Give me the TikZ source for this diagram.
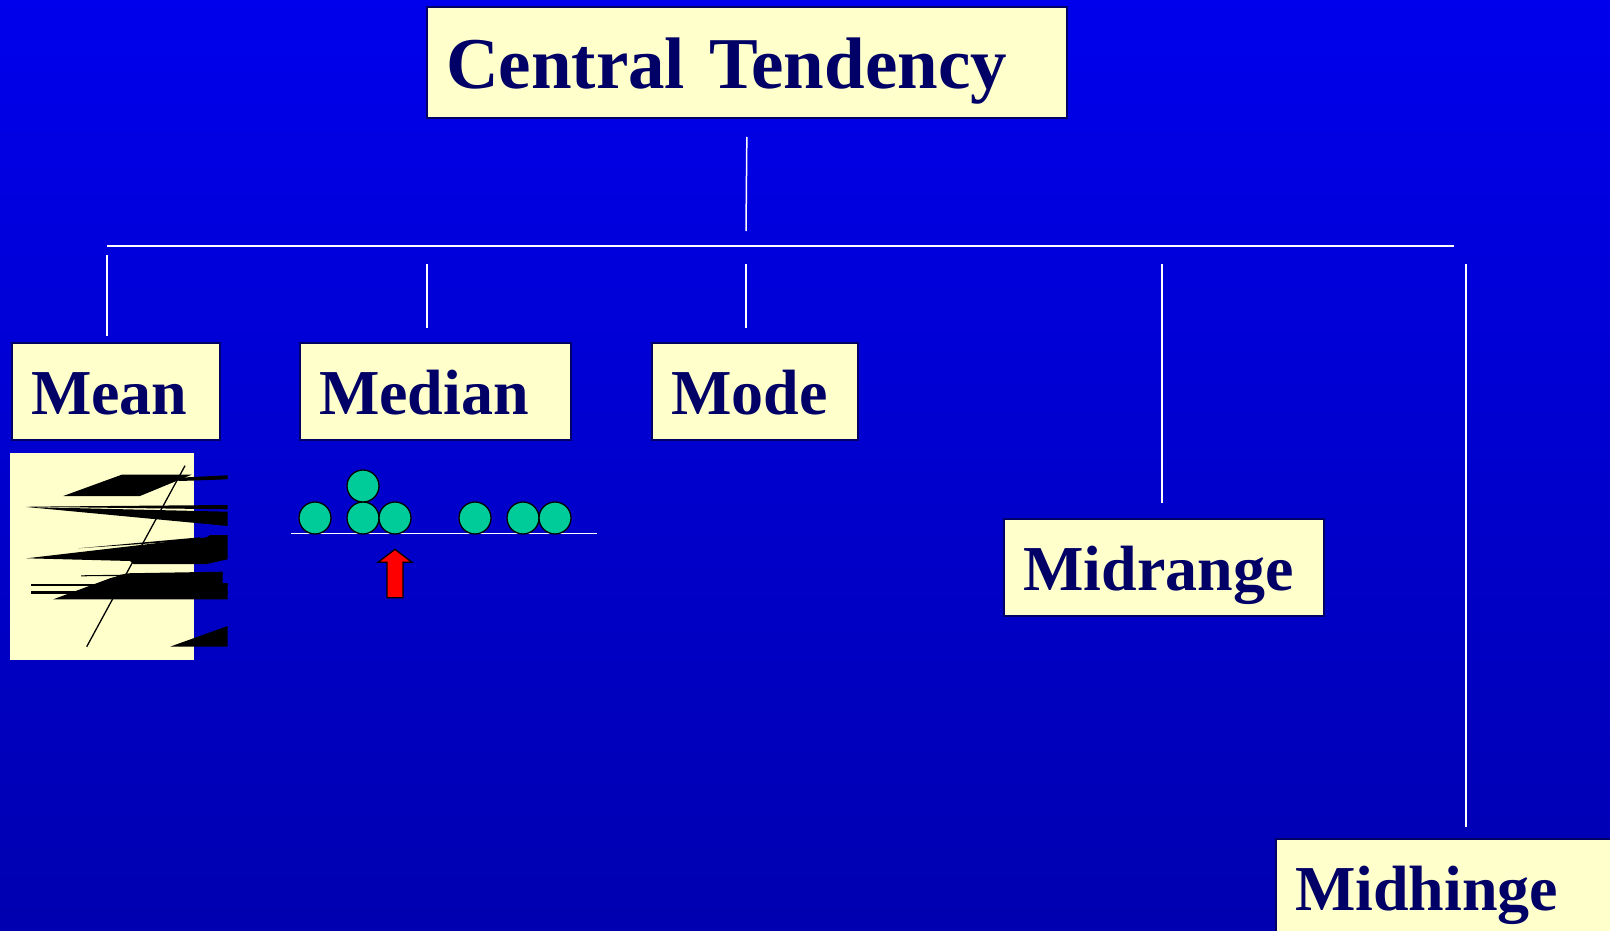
\documentclass[tikz,border=0pt]{standalone}
\usepackage{fontspec}
\setmainfont{Liberation Serif}
\definecolor{navytext}{RGB}{0,0,102}
\definecolor{boxfill}{RGB}{255,255,204}
\definecolor{dotgreen}{RGB}{0,204,153}
\definecolor{bgtop}{RGB}{0,0,236}
\definecolor{bgmid}{RGB}{0,0,228}
\definecolor{bgbottom}{RGB}{0,0,176}
\begin{document}
\begin{tikzpicture}[x=1pt, y=-1pt,
    box_style/.style={draw=navytext, line width=2pt, fill=boxfill, text=navytext,
        anchor=north west, align=left, inner xsep=19pt, inner ysep=0pt,
        font=\fontsize{64}{64}\selectfont\bfseries,
        text height=52.5pt, text depth=7.5pt, minimum height=97pt},
    link_style/.style={draw=white, line width=1.5pt},
    dot_style/.style={circle, draw=black, line width=1.3pt, fill=dotgreen,
        minimum size=32pt, inner sep=0pt}
]
\useasboundingbox (0,0) rectangle (1610,931);
\clip (0,0) rectangle (1610,931);
\shade[top color=bgtop, middle color=bgmid, bottom color=bgbottom] (0,0) rectangle (1610,931);
% Boxes
\node[box_style, text width=602pt, minimum height=111pt,
    font=\fontsize{73}{73}\selectfont\bfseries,
    text height=61.5pt, text depth=8.5pt] (central) at (426,6) {Central Tendency};
\node[box_style, text width=170pt] (mean) at (11,342.3) {Mean};
\node[box_style, text width=233pt] (median) at (299,342.3) {Median};
\node[box_style, text width=168pt] (mode) at (651,342.3) {Mode};
\node[box_style, text width=282pt] (midrange) at (1003.3,518.3) {Midrange};
\node[box_style, text width=400pt] (midhinge) at (1275,838.3) {Midhinge};
% Tree lines
\coordinate (trunk_end) at (746,231);
\coordinate (bar_l) at (107,246);
\coordinate (bar_r) at (1454,246);
\draw[link_style, shorten <=18pt] (central.south) -- (trunk_end);
\draw[link_style] (bar_l) -- (bar_r);
\foreach \n/\x/\y/\g in {mean/107/255/6pt, median/427/264/14pt, mode/746/264/14pt,
    midrange/1162/264/15pt, midhinge/1466/264/11pt} {
    \coordinate (top_\n) at (\x,\y);
    \draw[link_style, shorten >=\g] (top_\n) -- (top_\n |- \n.north);
}
% Mean picture
\fill[boxfill] (10,453.3) rectangle (194.3,660);
\begin{scope}[fill=black]
    \fill (63.3,496) -- (121.7,474.7) -- (191.7,474.7) -- (140,496) -- cycle;
    \fill (166.7,478.3) -- (227.7,475.3) -- (227.7,479.3) -- (180,481) -- cycle;
    \fill (26.7,506.7) -- (227.7,505) -- (227.7,509.3) -- cycle;
    \fill (26.7,507) -- (227.7,511.7) -- (227.7,526) -- cycle;
    \fill (26.7,558.3) -- (206.7,537.3) -- (210,535) -- (227.7,535) -- (227.7,559.3)
        -- (206.7,564) -- (133.3,564) -- (130,561) -- cycle;
    \fill (78.3,548.3) -- (200,537.3) -- (200,540) -- cycle;
    \fill (53.3,599.3) -- (110,578.3) -- (126.7,573.3) -- (222.7,571.7) -- (222.7,583)
        -- (227.7,583) -- (227.7,599.3) -- cycle;
    \fill (31,583.7) rectangle (227.7,586.3);
    \fill (31,591.4) rectangle (227.7,594);
    \fill (81,575.3) -- (222.7,573.3) -- (222.7,575) -- (81,576.3) -- cycle;
    \fill (170,646.7) -- (227.7,626) -- (227.7,646.7) -- cycle;
\end{scope}
\draw[black, line width=1.3pt] (185,465.7) -- (86.7,646.7);
% Median dots
\draw[link_style] (291,533.5) -- (597,533.5);
\foreach \i/\x/\y in {1/315/518, 2/363/518, 3/395/518, 4/475/518, 5/523/518,
    6/555/518, 7/363/486} {
    \node[dot_style] (dot\i) at (\x,\y) {};
}
\filldraw[fill=red, draw=black, line width=1.3pt] (395,549.3) -- (412,562.3) -- (403,562.3)
    -- (403,597.7) -- (387,597.7) -- (387,562.3) -- (378,562.3) -- cycle;
\end{tikzpicture}
\end{document}
